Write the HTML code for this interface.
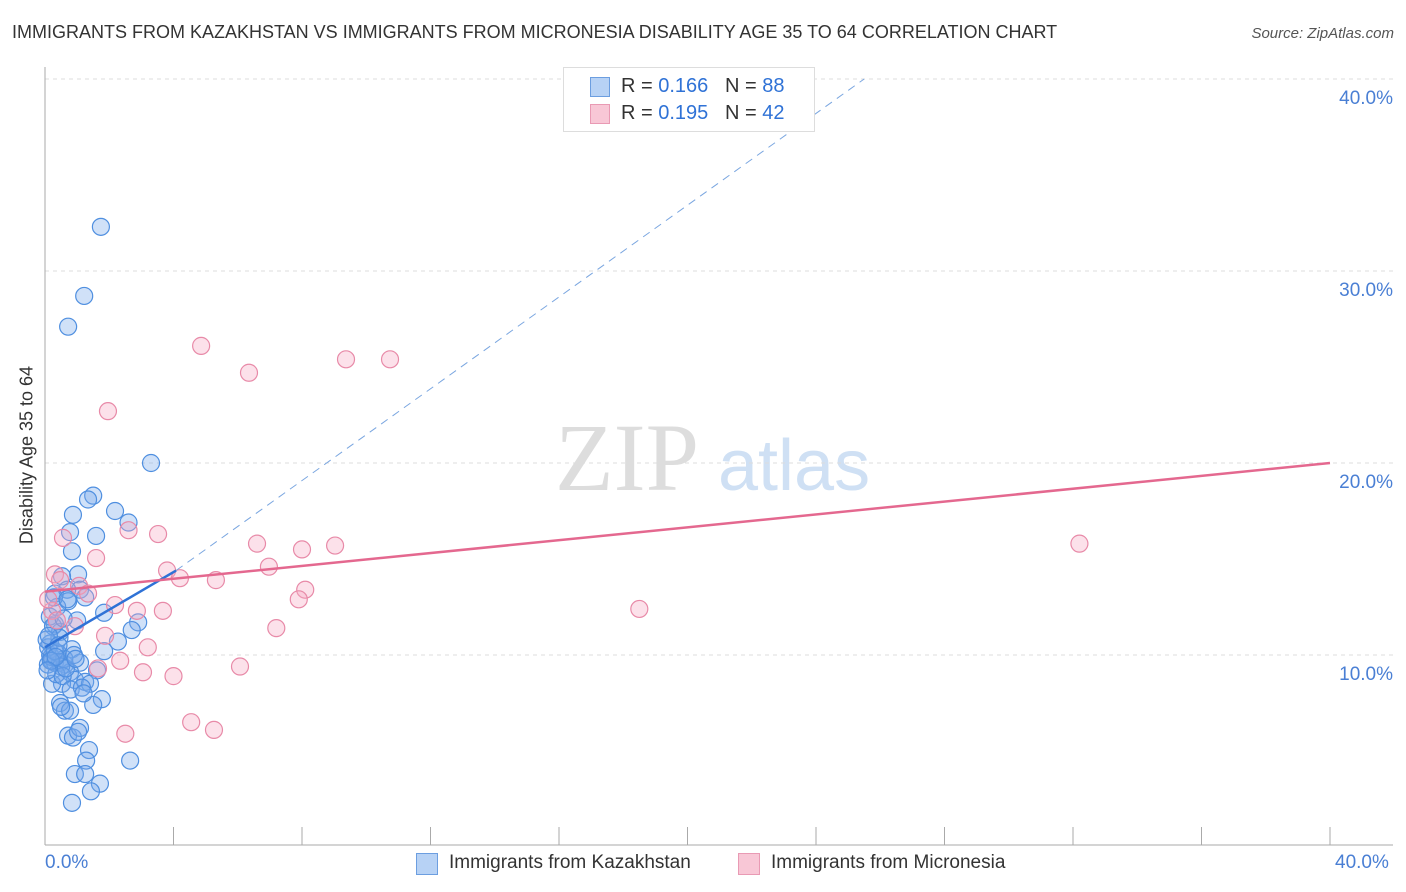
<!DOCTYPE html>
<html><head><meta charset="utf-8">
<style>
body{margin:0;background:#fff;font-family:"Liberation Sans",sans-serif;}
#wrap{position:relative;width:1406px;height:892px;overflow:hidden}
.t{position:absolute;white-space:nowrap}
</style></head><body>
<div id="wrap">
<div class="t" style="left:12px;top:22px;font-size:18px;color:#333">IMMIGRANTS FROM KAZAKHSTAN VS IMMIGRANTS FROM MICRONESIA DISABILITY AGE 35 TO 64 CORRELATION CHART</div>
<div class="t" style="right:12px;top:25px;font-size:15px;color:#555;font-style:italic">Source: ZipAtlas.com</div>
<svg id="svg" width="1406" height="892" style="position:absolute;left:0;top:0"></svg>
</div>
<script>
const blueX=[1.74,1.22,0.72,3.3,1.5,1.34,2.18,2.6,0.87,0.78,1.59,0.84,1.03,0.53,1.09,0.31,0.69,0.72,1.25,1.84,2.9,1.0,2.7,0.31,0.47,2.27,1.84,0.84,0.16,0.16,0.22,0.09,0.31,0.47,0.62,1.09,1.62,0.78,0.93,1.25,1.4,0.53,0.22,1.77,1.5,0.47,0.62,0.78,0.72,0.87,1.09,1.03,1.37,2.65,1.28,0.93,1.25,1.71,1.43,0.84,0.2,0.4,0.6,0.1,0.3,0.5,0.15,0.25,0.45,0.35,0.55,0.05,0.12,0.65,0.8,1.15,0.38,0.28,0.18,0.42,0.58,0.7,0.9,1.2,0.5,0.33,0.08,0.95];
const blueY=[32.3,28.7,27.1,20.0,18.3,18.1,17.5,16.9,17.3,16.4,16.2,15.4,14.2,14.1,13.4,13.2,13.4,12.8,13.0,12.2,11.7,11.8,11.3,11.6,11.2,10.7,10.2,10.3,10.6,10.0,9.7,9.5,9.6,9.6,9.5,9.6,9.2,9.1,8.7,8.6,8.5,8.5,8.5,7.7,7.4,7.5,7.1,7.1,5.8,5.7,6.2,6.0,5.05,4.5,4.5,3.8,3.8,3.3,2.9,2.3,9.9,10.1,9.8,10.4,10.2,9.4,12.0,11.5,10.9,9.0,8.9,10.8,11.0,9.3,8.2,8.3,12.5,13.0,9.7,10.5,11.9,12.9,10.0,8.0,7.3,9.9,9.2,9.8];
const pinkX=[4.86,6.35,9.37,10.74,1.96,3.52,2.6,6.6,8.0,9.03,32.2,0.56,1.59,6.97,3.8,4.2,5.32,0.31,0.47,1.06,1.34,8.1,7.9,0.22,2.18,2.86,3.67,18.5,0.37,0.93,7.2,1.87,3.2,2.34,6.07,1.65,3.05,4.0,4.55,5.26,2.5,0.1];
const pinkY=[26.1,24.7,25.4,25.4,22.7,16.3,16.5,15.8,15.5,15.7,15.8,16.1,15.05,14.6,14.4,14.0,13.9,14.2,13.9,13.6,13.2,13.4,12.9,12.3,12.6,12.3,12.3,12.4,11.8,11.5,11.4,11.0,10.4,9.7,9.4,9.3,9.1,8.9,6.5,6.1,5.9,12.9];
const yTicks=[10,20,30,40];
const yTickLabels=["10.0%","20.0%","30.0%","40.0%"];
const blueTrend=[[0,10.4],[4.08,14.4]];
const blueDash=[[4.08,14.4],[25.5,40]];
const pinkTrend=[[0,13.3],[40,20.0]];
const X=v=>45+v*32.125, Y=v=>847-v*19.2;
const svg=document.getElementById('svg');const NS='http://www.w3.org/2000/svg';
function mk(tag,attrs,name){const e=document.createElementNS(NS,tag);for(const k in attrs)e.setAttribute(k,attrs[k]);


svg.appendChild(e);return e;}
// watermark
let w=mk('text',{x:555,y:490,'font-size':96,'font-family':'Liberation Serif,serif',fill:'#ddd'},'watermark-zip');w.textContent='ZIP';
w=mk('text',{x:718,y:490,'font-size':72,'font-family':'Liberation Sans,sans-serif',fill:'#cfe0f4'},'watermark-atlas');w.textContent='atlas';
yTicks.forEach((t,i)=>{mk('line',{x1:45,x2:1393,y1:Y(t),y2:Y(t),stroke:'#ddd','stroke-dasharray':'4,4'},'gridline');
const l=mk('text',{x:1393,y:Y(t)+25,'text-anchor':'end','font-size':19,fill:'#4a7fd4'},'y-tick-label');l.textContent=yTickLabels[i];});
mk('line',{x1:45,x2:45,y1:67,y2:845,stroke:'#aaa'},'y-axis-line');
mk('line',{x1:45,x2:1393,y1:845,y2:845,stroke:'#aaa'},'x-axis-line');
for(let i=1;i<=10;i++)mk('line',{x1:X(i*4),x2:X(i*4),y1:827,y2:845,stroke:'#aaa'},'x-tick');
blueX.forEach((x,i)=>mk('circle',{cx:X(x),cy:Y(blueY[i]),r:8.5,fill:'rgba(120,170,235,0.35)',stroke:'#4f8fe0','stroke-width':1.2},'point-kazakhstan'));
pinkX.forEach((x,i)=>mk('circle',{cx:X(x),cy:Y(pinkY[i]),r:8.5,fill:'rgba(245,170,195,0.35)',stroke:'#e88aa8','stroke-width':1.2},'point-micronesia'));
mk('line',{x1:X(blueDash[0][0]),y1:Y(blueDash[0][1]),x2:X(blueDash[1][0]),y2:Y(blueDash[1][1]),stroke:'#7aa6e0','stroke-dasharray':'8,6'},'kazakhstan-trend-extension');
mk('line',{x1:X(blueTrend[0][0]),y1:Y(blueTrend[0][1]),x2:X(blueTrend[1][0]),y2:Y(blueTrend[1][1]),stroke:'#2f72d6','stroke-width':2.5},'kazakhstan-trend');
mk('line',{x1:X(pinkTrend[0][0]),y1:Y(pinkTrend[0][1]),x2:X(pinkTrend[1][0]),y2:Y(pinkTrend[1][1]),stroke:'#e4688f','stroke-width':2.5},'micronesia-trend');
</script>
<div class="t" style="left:563px;top:67px;width:250px;height:63px;border:1px solid #ddd;background:#fff">
<div style="position:absolute;left:26px;top:9px;width:18px;height:18px;background:#b7d2f5;border:1px solid #6c9ee0"></div>
<div style="position:absolute;left:26px;top:36px;width:18px;height:18px;background:#f8c7d6;border:1px solid #e99ab4"></div>
<div class="t" style="left:57px;top:7px;font-size:20px;color:#333">R = <span style="color:#2f72d6">0.166</span>&nbsp;&nbsp;&nbsp;N = <span style="color:#2f72d6">88</span></div>
<div class="t" style="left:57px;top:34px;font-size:20px;color:#333">R = <span style="color:#2f72d6">0.195</span>&nbsp;&nbsp;&nbsp;N = <span style="color:#2f72d6">42</span></div>
</div>
<div class="t" style="left:45px;top:852px;font-size:19px;color:#4a7fd4">0.0%</div>
<div class="t" style="left:1335px;top:852px;font-size:19px;color:#4a7fd4">40.0%</div>
<div class="t" style="left:416px;top:853px;width:20px;height:20px;background:#b7d2f5;border:1px solid #6c9ee0"></div>
<div class="t" style="left:449px;top:852px;font-size:19px;color:#333">Immigrants from Kazakhstan</div>
<div class="t" style="left:738px;top:853px;width:20px;height:20px;background:#f8c7d6;border:1px solid #e99ab4"></div>
<div class="t" style="left:771px;top:852px;font-size:19px;color:#333">Immigrants from Micronesia</div>
<div class="t" style="left:27px;top:455px;font-size:18px;color:#333;transform:translate(-50%,-50%) rotate(-90deg)">Disability Age 35 to 64</div>
</body></html>
